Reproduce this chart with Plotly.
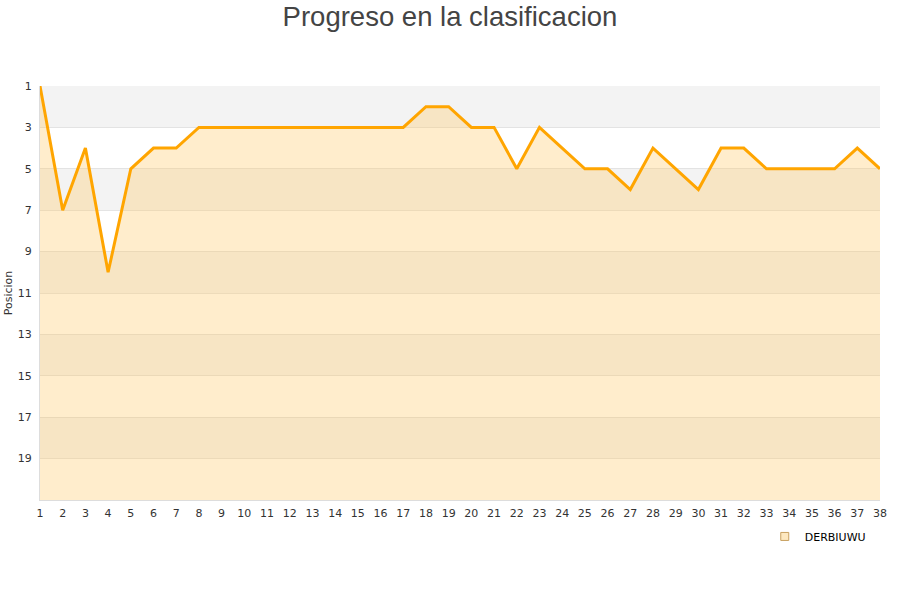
import plotly.graph_objects as go

jornadas = list(range(1, 39))
posiciones = [1, 7, 4, 10, 5, 4, 4, 3, 3, 3, 3, 3, 3, 3, 3, 3, 3, 2, 2, 3,
              3, 5, 3, 4, 5, 5, 6, 4, 5, 6, 4, 4, 5, 5, 5, 5, 4, 5]
equipo = "DERBIUWU"
y_ticks = list(range(1, 21, 2))
fondo = [21] * len(jornadas)

fig = go.Figure()

# background stripes
shapes = []
for i, y0 in enumerate(range(1, 21, 2)):
    color = "#f3f3f3" if i % 2 == 0 else "#ffffff"
    shapes.append(dict(type="rect", xref="paper", yref="y", x0=0, x1=1, y0=y0, y1=y0 + 2,
                       fillcolor=color, line=dict(width=0), layer="below"))

fig.add_trace(go.Scatter(x=jornadas, y=fondo, mode="lines", line=dict(width=0),
                         showlegend=False, hoverinfo="skip"))
fig.add_trace(go.Scatter(x=jornadas, y=posiciones, mode="lines", fill="tonexty",
                         fillcolor="rgba(255,200,100,0.33)",
                         line=dict(color="#FFA500", width=3), showlegend=False, name=equipo))
fig.add_trace(go.Scatter(x=[None], y=[None], mode="markers", name=equipo,
                         marker=dict(symbol="square", size=8, color="#fde8c0",
                                     line=dict(color="#c8a060", width=1))))

fig.update_layout(
    width=900, height=600,
    paper_bgcolor="white", plot_bgcolor="white",
    margin=dict(l=40, r=20, t=86, b=100),
    shapes=shapes,
    title=dict(text="Progreso en la clasificacion", x=0.5, xanchor="center",
               y=0.957, yanchor="bottom",
               font=dict(family="Liberation Sans, Arial, sans-serif", size=27.5, color="#444444")),
    font=dict(family="DejaVu Sans, sans-serif", size=11, color="#333333"),
    xaxis=dict(range=[1, 38], tickmode="array", tickvals=jornadas, ticktext=[str(j) for j in jornadas],
               showgrid=False, zeroline=False, showline=True, linecolor="#dddddd", linewidth=1,
               ticks="", tickfont=dict(size=11, color="#333333"), automargin=False,
               ticklabelstandoff=3),
    yaxis=dict(range=[21, 1], tickmode="array", tickvals=y_ticks, ticktext=[str(t) for t in y_ticks],
               showgrid=True, gridcolor="rgba(210,210,210,0.6)", gridwidth=1, zeroline=False,
               showline=True, linecolor="#dddddd", linewidth=1, ticks="",
               tickfont=dict(size=11, color="#333333"), automargin=False,
               ticklabelstandoff=5,
               title=dict(text="Posicion", font=dict(size=11, color="#333333"), standoff=2)),
    legend=dict(x=0.989, xanchor="right", y=-0.053, yanchor="top", orientation="h",
                font=dict(size=11, color="#000000"), bgcolor="rgba(0,0,0,0)"),
)

fig.write_html("out.html", config={"displayModeBar": False},
               post_script="document.body.style.margin='0';")
